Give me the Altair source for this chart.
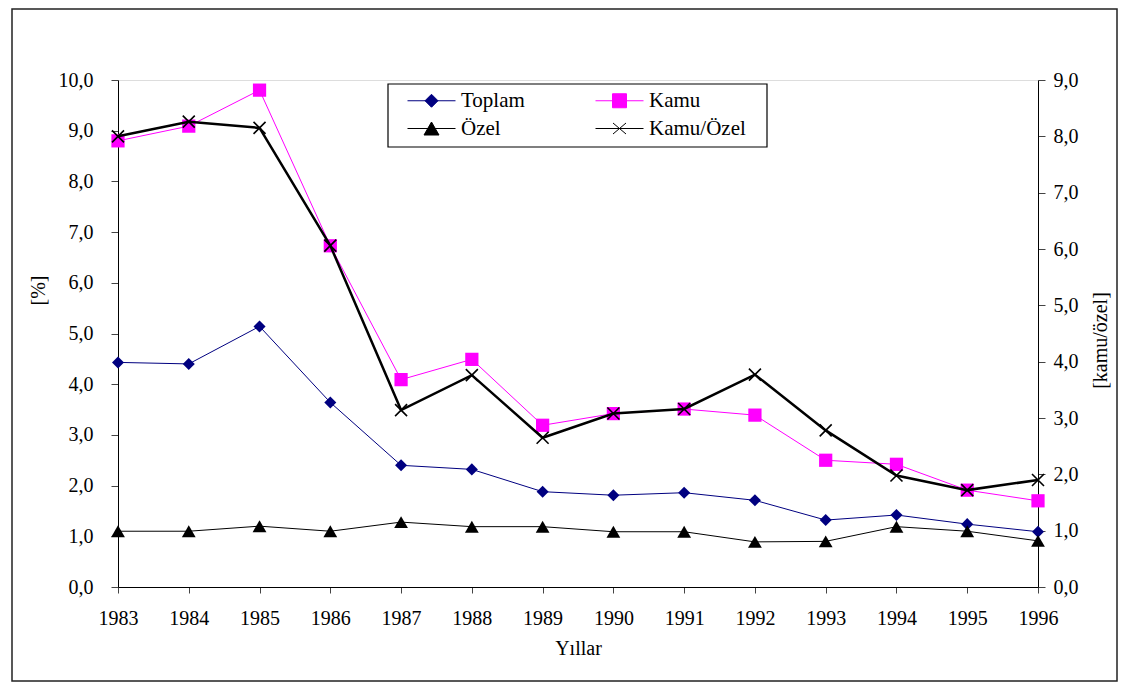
import altair as alt
import pandas as pd

years = list(range(1983, 1997))
toplam = [4.43, 4.40, 5.14, 3.64, 2.40, 2.32, 1.88, 1.81, 1.86, 1.71, 1.32, 1.42, 1.24, 1.09]
kamu = [8.80, 9.09, 9.80, 6.73, 4.09, 4.49, 3.19, 3.42, 3.51, 3.39, 2.50, 2.42, 1.91, 1.70]
ozel = [1.10, 1.10, 1.20, 1.10, 1.28, 1.19, 1.19, 1.09, 1.09, 0.89, 0.90, 1.19, 1.10, 0.91]
kamu_ozel = [8.00, 8.26, 8.15, 6.06, 3.14, 3.76, 2.65, 3.08, 3.16, 3.77, 2.78, 1.98, 1.72, 1.90]

series = ["Toplam", "Kamu", "Özel", "Kamu/Özel"]
colors = ["#000080", "#FF00FF", "#000000", "#000000"]

left_ticks = [0, 1, 2, 3, 4, 5, 6, 7, 8, 9, 10]
right_ticks = [0, 1, 2, 3, 4, 5, 6, 7, 8, 9]

FONT = "Liberation Serif, Times New Roman, serif"
FS = 20
W, H = 920, 507

rows = []
for name, vals in zip(series, [toplam, kamu, ozel, kamu_ozel]):
    for y, v in zip(years, vals):
        rows.append({"year": y, "seri": name, "value": v})
df = pd.DataFrame(rows)

comma = "replace(format(datum.value, '.1f'), '.', ',')"

x_enc = alt.X(
    "year:Q",
    scale=alt.Scale(domain=[1983, 1996], nice=False, zero=False),
    axis=alt.Axis(
        values=years, format="d", title="Yıllar", labelFont=FONT, titleFont=FONT,
        labelFontSize=FS, titleFontSize=FS, titleFontWeight="normal",
        labelColor="black", titleColor="black", tickColor="#444", domainColor="black",
        tickSize=6, labelPadding=15, titlePadding=10, grid=False, labelFlush=False,
    ),
)

y_left = alt.Y(
    "value:Q",
    scale=alt.Scale(domain=[0, 10], nice=False),
    axis=alt.Axis(
        values=left_ticks, labelExpr=comma, title="[%]", labelFont=FONT, titleFont=FONT,
        labelFontSize=FS, titleFontSize=FS, titleFontWeight="normal",
        labelColor="black", titleColor="black", tickColor="#444", domainColor="black",
        tickSize=7, labelPadding=18, grid=False,
        titleAngle=-90, titleX=-80, titleY=210, titleAlign="center", titleBaseline="middle",
    ),
)

y_right = alt.Y(
    "value:Q",
    scale=alt.Scale(domain=[0, 9], nice=False),
    axis=alt.Axis(
        orient="right", values=right_ticks, labelExpr=comma, title="[kamu/özel]",
        labelFont=FONT, titleFont=FONT, labelFontSize=FS, titleFontSize=FS,
        titleFontWeight="normal", labelColor="black", titleColor="black",
        tickColor="#444", domainColor="black", tickSize=7, labelPadding=8, grid=False,
        titleAngle=-90, titleX=62, titleY=260, titleAlign="center", titleBaseline="middle",
    ),
)

base = alt.Chart(df)


def line_layer(name, color, width, y):
    return base.transform_filter(alt.datum.seri == name).mark_line(
        color=color, strokeWidth=width
    ).encode(x=x_enc, y=y)


def point_layer(name, color, shape, size, y, filled=True, sw=1):
    return base.transform_filter(alt.datum.seri == name).mark_point(
        shape=shape, size=size, filled=filled, color=color, opacity=1, strokeWidth=sw
    ).encode(x=x_enc, y=y)


X_PATH = "M-1,-1L1,1M-1,1L1,-1"

left = alt.layer(
    line_layer("Toplam", colors[0], 1, y_left),
    line_layer("Kamu", colors[1], 1, y_left),
    line_layer("Özel", colors[2], 1, y_left),
    point_layer("Toplam", colors[0], "diamond", 145, y_left),
    point_layer("Kamu", colors[1], "square", 175, y_left),
    point_layer("Özel", colors[2], "triangle-up", 190, y_left),
)

right = alt.layer(
    line_layer("Kamu/Özel", colors[3], 2.5, y_right),
    point_layer("Kamu/Özel", colors[3], X_PATH, 144, y_right, filled=False, sw=1.6),
)

# legend built from an empty layer with custom line+marker symbols
# (order arranged so that the two-column grid reads row by row)
leg_order = ["Toplam", "Özel", "Kamu", "Kamu/Özel"]
leg_colors = ["#000080", "#000000", "#FF00FF", "#000000"]
leg_paths = [
    "M-2.4,0L2.4,0M-0.65,0L0,-0.65L0.65,0L0,0.65Z",
    "M-2.4,0L2.4,0M-0.75,0.65L0,-0.65L0.75,0.65Z",
    "M-2.4,0L2.4,0M-0.7,-0.7L0.7,-0.7L0.7,0.7L-0.7,0.7Z",
    "M-2.4,0L2.4,0M-0.65,-0.55L0.65,0.55M-0.65,0.55L0.65,-0.55",
]
leg_widths = [1, 1, 1, 2.2]
leg_df = pd.DataFrame({"leg": leg_order})
legend = alt.Legend(
    title=None, orient="none", legendX=303, legendY=10, columns=2, padding=0,
    labelFont=FONT, labelFontSize=21, labelColor="black", labelOffset=19,
    symbolSize=400, symbolOpacity=1, columnPadding=68, rowPadding=6,
)
legend_layer = alt.Chart(leg_df).transform_filter("false").mark_point(
    opacity=1, size=400
).encode(
    fill=alt.Fill("leg:N", sort=leg_order, scale=alt.Scale(domain=leg_order, range=leg_colors), legend=legend),
    stroke=alt.Stroke("leg:N", sort=leg_order, scale=alt.Scale(domain=leg_order, range=leg_colors), legend=legend),
    shape=alt.Shape("leg:N", sort=leg_order, scale=alt.Scale(domain=leg_order, range=leg_paths), legend=legend),
    strokeWidth=alt.StrokeWidth("leg:N", sort=leg_order, scale=alt.Scale(domain=leg_order, range=leg_widths), legend=legend),
)

border = alt.Chart(alt.Data(values=[{"a": 1}])).mark_rect(
    fill=None, stroke="#222", strokeWidth=1.5, clip=False
).encode(
    x=alt.value(-106), x2=alt.value(999), y=alt.value(-71), y2=alt.value(601)
)

legend_box = alt.Chart(alt.Data(values=[{"a": 1}])).mark_rect(
    fill="white", stroke="black", strokeWidth=1.2, clip=False
).encode(
    x=alt.value(270), x2=alt.value(649), y=alt.value(4), y2=alt.value(67)
)

chart = alt.layer(border, left, right, legend_box, legend_layer).resolve_scale(
    y="independent"
).properties(
    width=W, height=H,
    autosize=alt.AutoSizeParams(type="none"),
    padding={"left": 110, "top": 72, "right": 86, "bottom": 96},
).configure_view(stroke=None).configure(background="white")

chart.save("out.html", embed_options={"renderer": "svg", "actions": False})
